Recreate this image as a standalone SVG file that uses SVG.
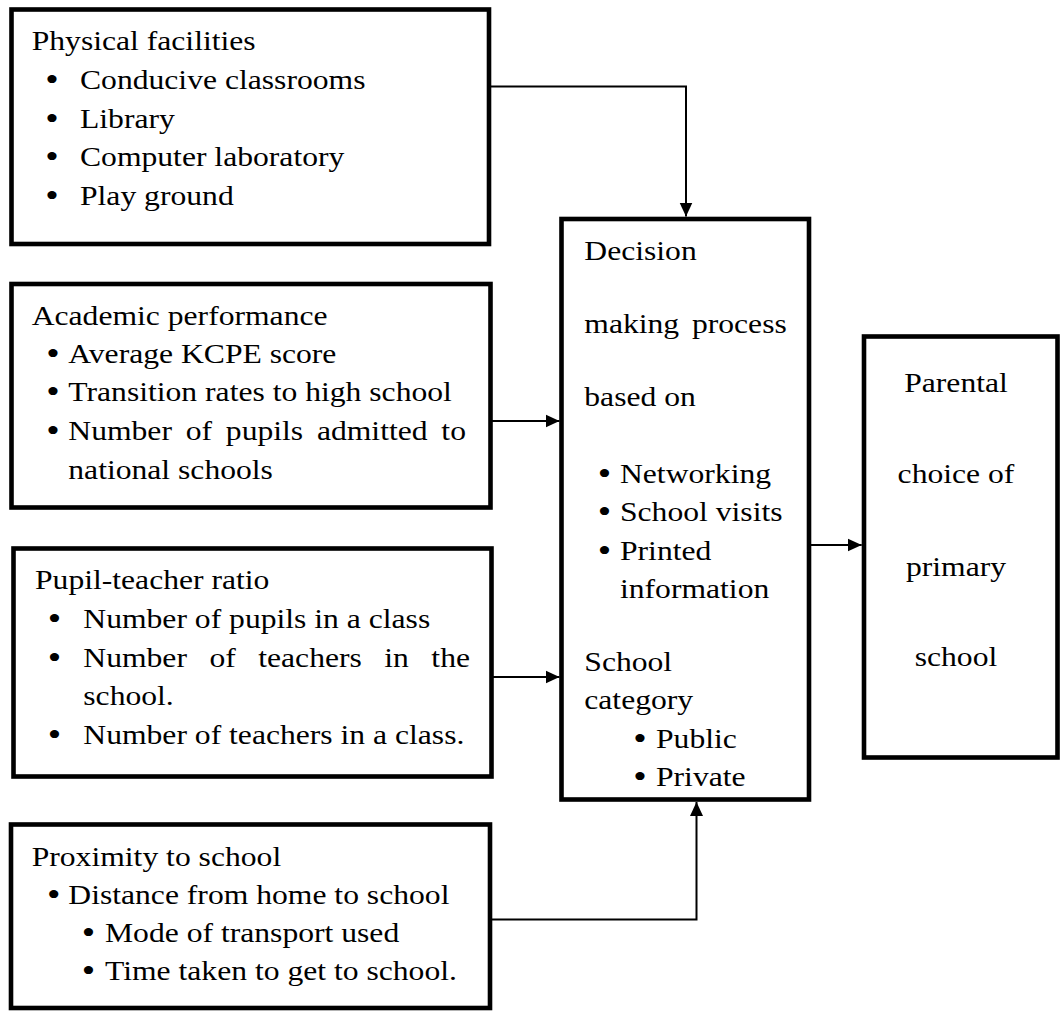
<svg xmlns="http://www.w3.org/2000/svg" width="1061" height="1011" viewBox="0 0 1061 1011">
<style>
.box{fill:#fff;stroke:#000;stroke-width:4.6;stroke-linejoin:miter}
.t{font-family:"Liberation Serif","Times New Roman",serif;font-size:28px;fill:#000}
.b{font-size:34px;baseline-shift:-2px}
.c{font-family:"Liberation Serif","Times New Roman",serif;font-size:28px;fill:#000;text-anchor:middle}
.ln{fill:none;stroke:#000;stroke-width:2}
</style>
<defs>
<marker id="arr" markerUnits="userSpaceOnUse" markerWidth="14" markerHeight="14" refX="14" refY="7" orient="auto">
<path d="M0,0.5 L14,7 L0,13.5 Z" fill="#000"/>
</marker>
</defs>
<rect width="1061" height="1011" fill="#fff"/>

<g id="connectors">
<path class="ln" d="M489 86.5 H686 V216.5" marker-end="url(#arr)"/>
<path class="ln" d="M490 421 H559.5" marker-end="url(#arr)"/>
<path class="ln" d="M492 677 H559.5" marker-end="url(#arr)"/>
<path class="ln" d="M490 919.5 H696.5 V802" marker-end="url(#arr)"/>
<path class="ln" d="M809 545 H861.7" marker-end="url(#arr)"/>
</g>

<g id="physical">
<rect class="box" x="11.5" y="9.5" width="477.5" height="234.5"/>
<g transform="scale(1.13 1)">
<text class="t" x="28.05" y="50.5">Physical facilities</text>
<text class="t" y="89.5"><tspan class="b" x="40">•</tspan><tspan x="70.8">Conducive classrooms</tspan></text>
<text class="t" y="128"><tspan class="b" x="40">•</tspan><tspan x="70.8">Library</tspan></text>
<text class="t" y="166.5"><tspan class="b" x="40">•</tspan><tspan x="70.8">Computer laboratory</tspan></text>
<text class="t" y="205"><tspan class="b" x="40">•</tspan><tspan x="70.8">Play ground</tspan></text>
</g>
</g>

<g id="academic">
<rect class="box" x="11.5" y="284" width="479" height="223.5"/>
<g transform="scale(1.13 1)">
<text class="t" x="28.05" y="325">Academic performance</text>
<text class="t" y="363"><tspan class="b" x="41">•</tspan><tspan x="60.44">Average KCPE score</tspan></text>
<text class="t" y="401.5"><tspan class="b" x="41">•</tspan><tspan x="60.44">Transition rates to high school</tspan></text>
<text class="t" y="440"><tspan class="b" x="41">•</tspan><tspan x="60.44" word-spacing="5.2">Number of pupils admitted to</tspan></text>
<text class="t" x="60.44" y="479">national schools</text>
</g>
</g>

<g id="pupil-teacher">
<rect class="box" x="13.5" y="548.5" width="478" height="228"/>
<g transform="scale(1.13 1)">
<text class="t" x="30.97" y="589">Pupil-teacher ratio</text>
<text class="t" y="628"><tspan class="b" x="42.2">•</tspan><tspan x="73.72">Number of pupils in a class</tspan></text>
<text class="t" y="667"><tspan class="b" x="42.2">•</tspan><tspan x="73.72" word-spacing="12.9">Number of teachers in the</tspan></text>
<text class="t" x="73.72" y="705">school.</text>
<text class="t" y="744"><tspan class="b" x="42.2">•</tspan><tspan x="73.72">Number of teachers in a class.</tspan></text>
</g>
</g>

<g id="proximity">
<rect class="box" x="11" y="824.5" width="479" height="183.5"/>
<g transform="scale(1.13 1)">
<text class="t" x="28.05" y="866">Proximity to school</text>
<text class="t" y="904"><tspan class="b" x="41.5">•</tspan><tspan x="60.44">Distance from home to school</tspan></text>
<text class="t" y="942"><tspan class="b" x="72.4">•</tspan><tspan x="92.92">Mode of transport used</tspan></text>
<text class="t" y="980"><tspan class="b" x="72.4">•</tspan><tspan x="92.92">Time taken to get to school.</tspan></text>
</g>
</g>

<g id="decision">
<rect class="box" x="561.5" y="219" width="247.5" height="580.5"/>
<g transform="scale(1.13 1)">
<text class="t" x="517.08" y="260">Decision</text>
<text class="t" x="517.08" y="333.3" word-spacing="4.3">making process</text>
<text class="t" x="517.08" y="405.7">based on</text>
<text class="t" y="483"><tspan class="b" x="528.9">•</tspan><tspan x="548.67">Networking</tspan></text>
<text class="t" y="521.5"><tspan class="b" x="528.9">•</tspan><tspan x="548.67">School visits</tspan></text>
<text class="t" y="560"><tspan class="b" x="528.9">•</tspan><tspan x="548.67">Printed</tspan></text>
<text class="t" x="548.67" y="598">information</text>
<text class="t" x="517.08" y="671.5">School</text>
<text class="t" x="517.08" y="709">category</text>
<text class="t" y="748"><tspan class="b" x="560.5">•</tspan><tspan x="580.53">Public</tspan></text>
<text class="t" y="786.5"><tspan class="b" x="560.5">•</tspan><tspan x="580.53">Private</tspan></text>
</g>
</g>

<g id="parental">
<rect class="box" x="864" y="336.5" width="193.5" height="421"/>
<g transform="scale(1.13 1)">
<text class="c" x="846.02" y="392.5">Parental</text>
<text class="c" x="846.02" y="483.5">choice of</text>
<text class="c" x="846.02" y="576">primary</text>
<text class="c" x="846.02" y="666.5">school</text>
</g>
</g>
</svg>
